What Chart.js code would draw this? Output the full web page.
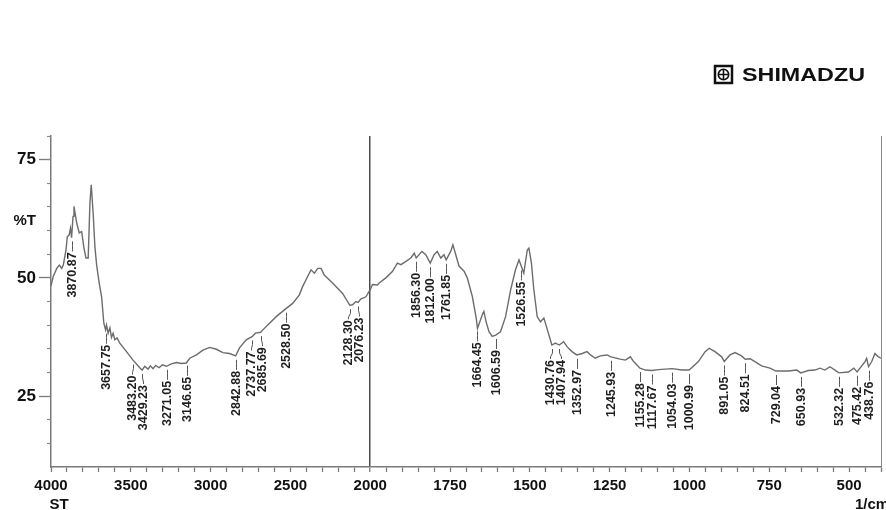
<!DOCTYPE html>
<html>
<head>
<meta charset="utf-8">
<script src="https://cdn.jsdelivr.net/npm/chart.js@4.4.1/dist/chart.umd.min.js"></script>
<style>
  html, body { margin: 0; padding: 0; background: #ffffff; }
  #wrap { width: 886px; height: 510px; position: relative; }
</style>
</head>
<body>
<div id="wrap"><canvas id="ir" width="886" height="510"></canvas></div>
<script>
// IR spectrum: wavenumber (1/cm) and transmittance (%T)
const wavenumbers = [
  4000, 3986, 3964, 3948, 3933, 3923, 3906, 3898, 3886, 3878, 3871, 3862, 3856, 3839, 3823, 3808,
  3794, 3781, 3767, 3756, 3748, 3736, 3725, 3714, 3698, 3683, 3669, 3658, 3652, 3642, 3631, 3621,
  3611, 3600, 3586, 3569, 3527, 3486, 3444, 3429, 3413, 3392, 3377, 3361, 3344, 3323, 3302, 3277,
  3246, 3214, 3183, 3152, 3131, 3089, 3048, 3006, 2964, 2923, 2881, 2843, 2819, 2777, 2738, 2720,
  2686, 2673, 2631, 2589, 2528, 2486, 2444, 2423, 2392, 2371, 2350, 2329, 2308, 2288, 2236, 2173,
  2128, 2111, 2090, 2076, 2060, 2027, 2000,
  1993, 1977, 1972, 1951, 1930, 1915, 1904, 1888, 1873, 1862, 1856, 1838, 1826, 1812, 1800, 1790,
  1779, 1769, 1762, 1748, 1741, 1732, 1722, 1706, 1696, 1680, 1668, 1664, 1649, 1644, 1637, 1628,
  1618, 1607, 1592, 1576, 1560, 1545, 1534, 1527, 1519, 1508, 1503, 1495, 1488, 1477, 1467, 1456,
  1445, 1431, 1420, 1408, 1394, 1383, 1368, 1353, 1336, 1321, 1310, 1295, 1279, 1258, 1246, 1217,
  1201, 1185, 1175, 1155, 1138, 1118, 1097, 1054, 1024, 1001, 972, 951, 938, 920, 899, 891,
  873, 857, 837, 825, 810, 795, 774, 748, 729, 690, 664, 651, 628, 607, 591, 576,
  560, 544, 532, 502, 485, 475, 450, 445, 439, 429, 419, 408, 400
];
const transmittance = [
  48.3, 50.3, 52.0, 52.7, 52.0, 52.7, 55.9, 58.7, 59.1, 60.5, 58.5, 63.0, 65.1, 61.6, 59.5, 59.8,
  56.4, 54.2, 54.2, 65.9, 69.7, 63.7, 56.6, 52.7, 48.9, 46.0, 40.4, 39.0, 40.0, 38.3, 39.4, 37.4,
  38.3, 36.9, 37.3, 36.2, 34.4, 32.6, 31.0, 30.5, 31.3, 30.7, 31.4, 30.8, 31.5, 31.0, 31.6, 31.3,
  31.8, 32.1, 31.9, 32.0, 33.0, 33.7, 34.7, 35.3, 34.9, 34.2, 34.0, 33.5, 35.2, 36.9, 37.6, 38.3,
  38.5, 39.0, 40.4, 41.8, 43.5, 44.6, 46.4, 48.2, 50.3, 51.7, 51.0, 52.0, 52.0, 50.6, 48.9, 46.7,
  44.2, 44.3, 45.0, 44.8, 45.5, 46.0, 47.5,
  48.6, 48.5, 48.9, 50.0, 51.4, 53.1, 52.8, 53.5, 54.2, 55.2, 54.2, 55.6, 54.9, 53.1, 54.9, 55.6,
  54.2, 54.9, 53.8, 55.6, 57.0, 54.9, 52.5, 51.4, 50.0, 46.0, 41.5, 39.3, 42.2, 42.9, 40.7, 38.6,
  37.6, 37.9, 38.6, 41.8, 47.5, 51.7, 53.8, 52.5, 51.0, 55.9, 56.3, 53.1, 47.8, 41.8, 40.7, 41.5,
  39.0, 35.8, 36.2, 35.8, 36.5, 35.4, 34.4, 33.7, 34.0, 34.4, 33.7, 33.0, 33.5, 33.7, 33.3, 32.8,
  32.6, 33.3, 32.3, 30.9, 30.5, 30.4, 30.6, 30.8, 30.5, 30.5, 32.3, 34.4, 35.1, 34.4, 33.3, 32.3,
  33.7, 34.2, 33.5, 32.8, 32.9, 32.3, 31.4, 30.9, 30.3, 30.3, 30.5, 29.9, 30.4, 30.5, 30.9, 30.5,
  31.2, 30.5, 29.9, 30.1, 30.9, 30.1, 32.3, 33.0, 31.2, 32.3, 34.0, 33.3, 33.0
];

// Picked peaks (1/cm)
const peakWavenumbers = [
  3870.87, 3657.75, 3483.20, 3429.23, 3271.05, 3146.65, 2842.88, 2737.77, 2685.69, 2528.50,
  2128.30, 2076.23, 1856.30, 1812.00, 1761.85, 1664.45, 1606.59, 1526.55, 1430.76, 1407.94,
  1352.97, 1245.93, 1155.28, 1117.67, 1054.03, 1000.99, 891.05, 824.51, 729.04, 650.93,
  532.32, 475.42, 438.76
];

const xMajorTicks = [4000, 3500, 3000, 2500, 2000, 1750, 1500, 1250, 1000, 750, 500];
const yMajorTicks = [25, 50, 75];
const yAxisTitle = '%T';
const yAxisTitleAt = 62;

// The axis is expanded 2x below 2000 1/cm, as on the instrument printout.
function toAxis(wn) { return wn >= 2000 ? 4000 - wn : 2000 + (2000 - wn) * 2; }
function fromAxis(p) { return p <= 2000 ? 4000 - p : 2000 - (p - 2000) / 2; }
const axisEnd = toAxis(400);

function transmittanceAt(wn) {
  for (let i = 0; i < wavenumbers.length - 1; i++) {
    const a = wavenumbers[i], b = wavenumbers[i + 1];
    if (wn <= a && wn >= b) {
      const t = (a - wn) / (a - b);
      return transmittance[i] + t * (transmittance[i + 1] - transmittance[i]);
    }
  }
  return transmittance[transmittance.length - 1];
}

const FONT = "'Liberation Sans', Arial, sans-serif";
const LABEL_GAP = 11;

const annotations = {
  id: 'annotations',
  afterDraw(chart) {
    const ctx = chart.ctx;
    const xs = chart.scales.x, ys = chart.scales.y;

    // peak positions, then spread labels that would collide
    const peaks = peakWavenumbers.map(wn => {
      const px = xs.getPixelForValue(toAxis(wn));
      return { wn, px, lx: px, py: ys.getPixelForValue(transmittanceAt(wn)) };
    }).sort((a, b) => a.px - b.px);
    for (let k = 0; k < 30; k++) {
      for (let i = 1; i < peaks.length; i++) {
        const d = peaks[i].lx - peaks[i - 1].lx;
        if (d < LABEL_GAP) {
          const s = (LABEL_GAP - d) / 2;
          peaks[i].lx += s;
          peaks[i - 1].lx -= s;
        }
      }
    }

    ctx.save();
    ctx.font = 'bold 12.5px ' + FONT;
    ctx.fillStyle = '#1e1e1e';
    ctx.strokeStyle = '#555';
    ctx.lineWidth = 1;
    peaks.forEach(p => {
      const px = Math.round(p.px) + 0.5;
      const lx = Math.round(p.lx) + 0.5;
      ctx.beginPath();
      ctx.moveTo(px, p.py + 4);
      ctx.lineTo(px, p.py + 8);
      ctx.lineTo(lx, p.py + 12);
      ctx.lineTo(lx, p.py + 14);
      ctx.stroke();
      ctx.save();
      ctx.translate(lx, p.py + 15);
      ctx.rotate(-Math.PI / 2);
      ctx.textAlign = 'right';
      ctx.textBaseline = 'middle';
      ctx.fillText(p.wn.toFixed(2), 0, 0);
      ctx.restore();
    });
    ctx.restore();

    // axis captions
    ctx.save();
    ctx.fillStyle = '#111';
    ctx.font = 'bold 15px ' + FONT;
    ctx.textBaseline = 'alphabetic';
    ctx.textAlign = 'center';
    ctx.fillText('ST', xs.getPixelForValue(toAxis(4000)) + 8, 509);
    ctx.textAlign = 'left';
    ctx.fillText('1/cm', 855, 509);
    ctx.restore();

    // manufacturer mark
    ctx.save();
    const bx = 715, by = 66, bs = 17;
    ctx.strokeStyle = '#111';
    ctx.lineWidth = 2.5;
    ctx.strokeRect(bx, by, bs, bs);
    ctx.lineWidth = 1.6;
    ctx.beginPath();
    ctx.arc(bx + bs / 2, by + bs / 2, 5.2, 0, Math.PI * 2);
    ctx.stroke();
    ctx.beginPath();
    ctx.moveTo(bx + 3, by + bs / 2);
    ctx.lineTo(bx + bs - 3, by + bs / 2);
    ctx.moveTo(bx + bs / 2, by + 3);
    ctx.lineTo(bx + bs / 2, by + bs - 3);
    ctx.stroke();
    ctx.fillStyle = '#111';
    ctx.font = 'bold 18px ' + FONT;
    ctx.textBaseline = 'alphabetic';
    ctx.textAlign = 'left';
    ctx.translate(742, 80.5);
    const w = ctx.measureText('SHIMADZU').width;
    ctx.scale(123 / w, 1);
    ctx.fillText('SHIMADZU', 0, 0);
    ctx.restore();
  }
};

new Chart(document.getElementById('ir'), {
  type: 'line',
  data: {
    datasets: [{
      data: wavenumbers.map((wn, i) => ({ x: toAxis(wn), y: transmittance[i] })),
      borderColor: '#6c6c6c',
      borderWidth: 1.4,
      pointRadius: 0,
      tension: 0,
      fill: false,
      yAxisID: 'y'
    }]
  },
  options: {
    responsive: false,
    animation: false,
    devicePixelRatio: 1,
    layout: { padding: { top: 136, right: 1, left: 0, bottom: 0 } },
    plugins: { legend: { display: false }, tooltip: { enabled: false } },
    scales: {
      x: {
        type: 'linear',
        min: 0,
        max: axisEnd,
        afterBuildTicks(s) {
          const t = [];
          for (let v = 0; v <= axisEnd; v += 100) t.push({ value: v });
          s.ticks = t;
        },
        afterFit(s) { s.height = 43; },
        ticks: {
          autoSkip: false,
          maxRotation: 0,
          padding: 5,
          color: '#111',
          font: { family: FONT, size: 15, weight: 'bold' },
          callback(v) {
            const wn = fromAxis(v);
            return xMajorTicks.includes(wn) ? String(wn) : '';
          }
        },
        grid: {
          drawOnChartArea: true,
          color(c) {
            if (!c.tick) return 'rgba(0,0,0,0)';
            if (c.tick.value === 2000) return '#4d4d4d';
            if (c.tick.value === axisEnd) return '#8a8a8a';
            return 'rgba(0,0,0,0)';
          },
          lineWidth(c) { return c.tick && c.tick.value === 2000 ? 1.5 : 1; },
          tickColor: '#7a7a7a',
          tickLength: 5,
          tickWidth: 1.3
        },
        border: { display: true, color: '#7a7a7a', width: 1.5 }
      },
      y: {
        type: 'linear',
        position: 'left',
        weight: 1,
        min: 10,
        max: 80,
        afterBuildTicks(s) {
          s.ticks = yMajorTicks.concat([yAxisTitleAt]).sort((a, b) => a - b).map(v => ({ value: v }));
        },
        afterFit(s) { s.width = 51; },
        ticks: {
          padding: 3,
          color: '#111',
          font(c) {
            return (c.tick && c.tick.value === yAxisTitleAt)
              ? { family: FONT, size: 15, weight: 'bold' }
              : { family: FONT, size: 17, weight: 'bold' };
          },
          callback(v) { return v === yAxisTitleAt ? yAxisTitle : String(v); }
        },
        grid: {
          drawOnChartArea: false,
          color: 'rgba(0,0,0,0)',
          tickColor(c) {
            return (c.tick && c.tick.value === yAxisTitleAt) ? 'rgba(0,0,0,0)' : '#7a7a7a';
          },
          tickLength: 12,
          tickWidth: 1.3
        },
        border: { display: true, color: '#7a7a7a', width: 1.5 }
      },
      yMinor: {
        type: 'linear',
        position: 'left',
        weight: 0,
        min: 10,
        max: 80,
        afterBuildTicks(s) {
          const t = [];
          for (let v = 15; v <= 80; v += 5) t.push({ value: v });
          s.ticks = t;
        },
        afterFit(s) { s.width = 0; },
        ticks: { display: false },
        grid: {
          drawOnChartArea: false,
          color: 'rgba(0,0,0,0)',
          tickColor: '#8a8a8a',
          tickLength: 4,
          tickWidth: 1.2
        },
        border: { display: false }
      }
    }
  },
  plugins: [annotations]
});
</script>
</body>
</html>
